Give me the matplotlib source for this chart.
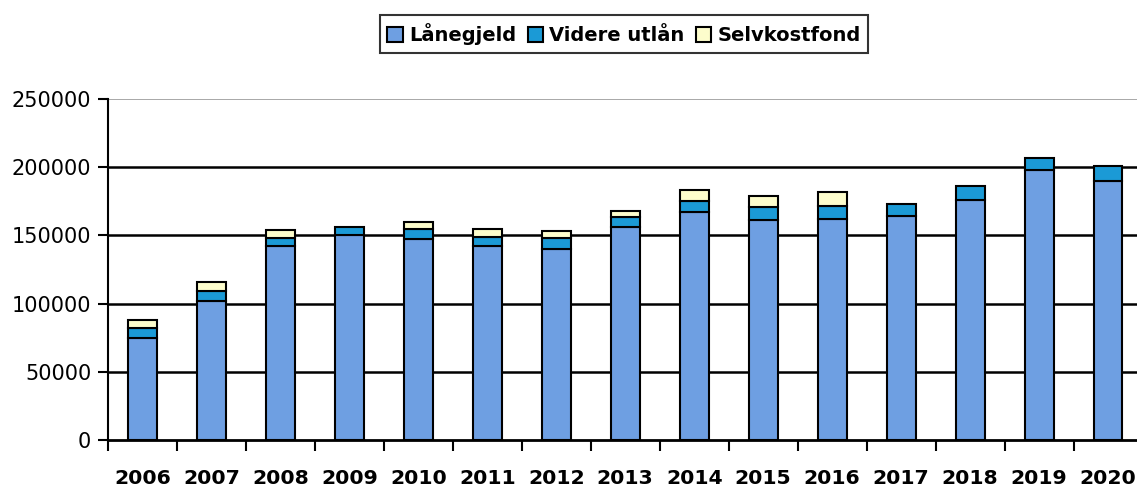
import matplotlib
matplotlib.use("Agg")
import matplotlib.pyplot as plt
from matplotlib.patches import Patch
import numpy as np

years = ["2006", "2007", "2008", "2009", "2010", "2011", "2012", "2013",
         "2014", "2015", "2016", "2017", "2018", "2019", "2020"]
lanegjeld = [75000, 102000, 142000, 150000, 147000, 142000, 140000, 156000,
             167000, 161000, 162000, 164000, 176000, 198000, 190000]
videre_utlan = [7000, 7000, 6000, 6000, 7500, 7000, 8000, 7500,
                8500, 10000, 9500, 9000, 10000, 9000, 11000]
selvkostfond = [6000, 7000, 6000, 0, 5500, 5500, 5000, 4500,
                8000, 8000, 10000, 0, 0, 0, 0]
series_names = ["Lånegjeld", "Videre utlån", "Selvkostfond"]
yticks = [0, 50000, 100000, 150000, 200000, 250000]

colors = ["#6e9fe2", "#1b9ad6", "#fdfdcc"]

plt.rcParams['font.family'] = ['DejaVu Sans']

fig = plt.figure(figsize=(11.37, 4.9), dpi=100)
ax = fig.add_axes([108/1137, 50/490, (1142.5-108)/1137, (440-99)/490])

x = np.arange(len(years))
w = 0.42
l = np.array(lanegjeld)
v = np.array(videre_utlan)
s = np.array(selvkostfond)
ax.bar(x, l, w, color=colors[0], edgecolor="black", linewidth=1.5, zorder=3)
ax.bar(x, v, w, bottom=l, color=colors[1], edgecolor="black", linewidth=1.5, zorder=3)
mask = s > 0
ax.bar(x[mask], s[mask], w, bottom=(l + v)[mask], color=colors[2], edgecolor="black", linewidth=1.5, zorder=3)

ax.set_xlim(-0.5, len(years) - 0.5)
ax.set_ylim(0, 250000)
ax.set_yticks(yticks)
ax.set_yticklabels([str(t) for t in yticks], fontsize=15)
for t in yticks[1:]:
    if t == 250000:
        ax.axhline(t, color="#999999", linewidth=1.2, zorder=1)
    else:
        ax.axhline(t, color="black", linewidth=1.8, zorder=1)

ax.set_xticks(x)
ax.set_xticklabels(years, fontsize=14.7, fontweight="bold")
ax.tick_params(axis="x", length=0, pad=21)
ax.set_xticks(np.arange(len(years) + 1) - 0.5, minor=True)
ax.tick_params(axis="x", which="minor", length=8, width=1.5, direction="out")
ax.tick_params(axis="y", length=7, width=1.5, direction="out", pad=5)

for sp in ["top", "right"]:
    ax.spines[sp].set_visible(False)
ax.spines["left"].set_linewidth(1.5)
ax.spines["bottom"].set_linewidth(2)

handles = [Patch(facecolor=c, edgecolor="black", linewidth=1.5) for c in colors]
leg = fig.legend(handles, series_names, loc="center", bbox_to_anchor=(624/1137, 1 - 34/490), ncol=3,
                 frameon=True, fancybox=False, edgecolor="black",
                 prop={"weight": "bold", "size": 14}, handlelength=0.8, handleheight=0.8,
                 handletextpad=0.3, columnspacing=0.6, borderpad=0.4)
leg.get_frame().set_linewidth(1.5)

fig.savefig("out.png", dpi=100)
